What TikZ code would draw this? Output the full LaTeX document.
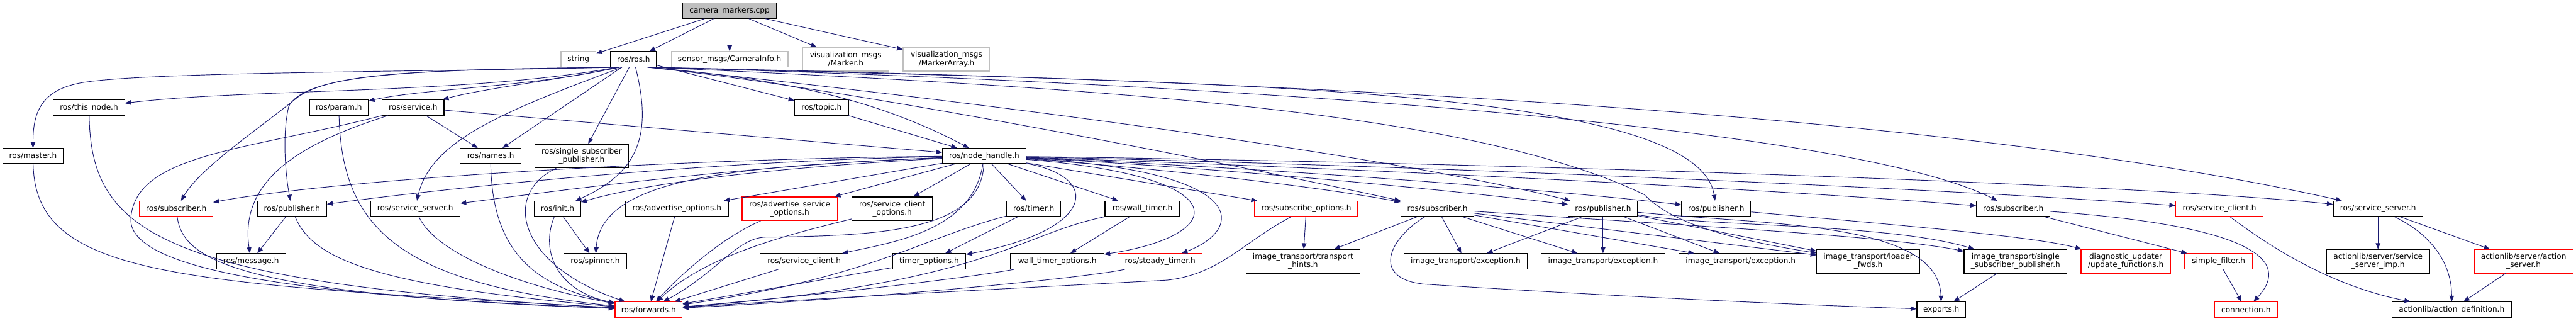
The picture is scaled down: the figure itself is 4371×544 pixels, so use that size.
\documentclass[tikz,border=0pt]{standalone}
\usepackage{fontspec}
\setmainfont{DejaVu Sans}
\usetikzlibrary{arrows.meta}
\definecolor{edgeblue}{RGB}{25,25,112}
\definecolor{grey75}{RGB}{191,191,191}

\begin{document}
\begin{tikzpicture}[x=0.75pt, y=-0.75pt,
  file/.style={draw=black, line width=1pt, font=\fontsize{9.7}{10.7}\selectfont, align=center, inner sep=0pt, minimum height=19.5pt},
  twoline/.style={minimum height=30pt},
  ext/.style={file, draw=grey75},
  miss/.style={file, draw=red},
  inc/.style={draw=edgeblue, line width=0.75pt, -{Triangle[length=7.5pt,width=6pt]}}]
\useasboundingbox (0,0) rectangle (4371,544);

\node[file, fill=grey75, minimum width=119.25pt] (cam) at (1238,18) {camera\_markers.cpp};
\node[ext, minimum width=44.25pt] (str) at (981.5,100.5) {string};
\node[file, minimum width=58.5pt] (ros) at (1075,100.5) {ros/ros.h};
\node[ext, minimum width=148.5pt] (caminfo) at (1238,100.5) {sensor\_msgs/CameraInfo.h};
\node[ext, twoline, minimum width=109.5pt] (marker) at (1435,100.5) {visualization\_msgs\\/Marker.h};
\node[ext, twoline, minimum width=110.25pt] (markerarr) at (1606,100.5) {visualization\_msgs\\/MarkerArray.h};

\node[file, minimum width=90.75pt] (thisnode) at (151,182.3) {ros/this\_node.h};
\node[file, minimum width=75pt] (param) at (575,182.3) {ros/param.h};
\node[file, minimum width=78.75pt] (service) at (701,182.3) {ros/service.h};
\node[file, minimum width=68.25pt] (topic) at (1394,182.3) {ros/topic.h};

\node[file, minimum width=77.25pt] (master) at (56,264.5) {ros/master.h};
\node[file, minimum width=77.25pt] (names) at (832.5,264.5) {ros/names.h};
\node[file, twoline, minimum width=119.6pt] (singlesub) at (987,264.5) {ros/single\_subscriber\\\_publisher.h};
\node[file, minimum width=106.5pt] (nodehandle) at (1670,264.5) {ros/node\_handle.h};

\node[miss, minimum width=93pt] (subA) at (299,354) {ros/subscriber.h};
\node[file, minimum width=87.75pt] (pubA) at (495.5,354) {ros/publisher.h};
\node[file, minimum width=114pt] (srvA) at (704.5,354) {ros/service\_server.h};
\node[file, minimum width=58.5pt] (init) at (946,354) {ros/init.h};
\node[file, minimum width=131.25pt] (advopt) at (1148.5,354) {ros/advertise\_options.h};
\node[miss, twoline, minimum width=121.1pt] (advsrv) at (1340,354) {ros/advertise\_service\\\_options.h};
\node[file, twoline, minimum width=102.4pt] (clientopt) at (1514,354) {ros/service\_client\\\_options.h};
\node[file, minimum width=69pt] (timer) at (1754,354) {ros/timer.h};
\node[file, minimum width=95.25pt] (walltimer) at (1938.5,354) {ros/wall\_timer.h};
\node[miss, minimum width=131.25pt] (subopt) at (2216.5,354) {ros/subscribe\_options.h};
\node[file, minimum width=93pt] (subB) at (2439,354) {ros/subscriber.h};
\node[file, minimum width=88.1pt] (pubB) at (2720,354) {ros/publisher.h};
\node[file, minimum width=87.75pt] (pubC) at (2912,354) {ros/publisher.h};
\node[file, minimum width=93pt] (subC) at (3416,354) {ros/subscriber.h};
\node[miss, minimum width=111.4pt] (clientR) at (3766,354) {ros/service\_client.h};
\node[file, minimum width=114pt] (srvB) at (4035,354) {ros/service\_server.h};

\node[file, minimum width=88.5pt] (message) at (426,443) {ros/message.h};
\node[file, minimum width=79.5pt] (spinner) at (1010,443) {ros/spinner.h};
\node[file, minimum width=111.75pt] (clientB) at (1364.5,443) {ros/service\_client.h};
\node[file, minimum width=93pt] (timeropt) at (1576.7,443) {timer\_options.h};
\node[file, minimum width=118.5pt] (walltimeropt) at (1794,443) {wall\_timer\_options.h};
\node[miss, minimum width=107.25pt] (steadytimer) at (1968.5,443) {ros/steady\_timer.h};
\node[file, twoline, minimum width=144.5pt] (hints) at (2211,443) {image\_transport/transport\\\_hints.h};
\node[file, minimum width=157.1pt] (excA) at (2487,443) {image\_transport/exception.h};
\node[file, minimum width=157.5pt] (excB) at (2720,443) {image\_transport/exception.h};
\node[file, minimum width=156.75pt] (excC) at (2953.5,443) {image\_transport/exception.h};
\node[file, twoline, minimum width=130.9pt] (loader) at (3170,443) {image\_transport/loader\\\_fwds.h};
\node[file, twoline, minimum width=131pt] (single) at (3420,443) {image\_transport/single\\\_subscriber\_publisher.h};
\node[miss, twoline, minimum width=113.7pt] (diag) at (3607,443) {diagnostic\_updater\\/update\_functions.h};
\node[miss, minimum width=86.25pt] (filter) at (3764.5,443) {simple\_filter.h};
\node[file, twoline, minimum width=131.25pt] (srvimp) at (4035,443) {actionlib/server/service\\\_server\_imp.h};
\node[miss, twoline, minimum width=125.7pt] (actsrv) at (4282,443) {actionlib/server/action\\\_server.h};

\node[miss, minimum width=85.5pt] (forwards) at (1100.6,525) {ros/forwards.h};
\node[file, minimum width=62pt] (exports) at (3294,525) {exports.h};
\node[miss, minimum width=79.5pt] (connection) at (3811,525) {connection.h};
\node[file, minimum width=151.9pt] (actiondef) at (4160,525) {actionlib/action\_definition.h};

\draw[inc] (cam) -- (str);
\draw[inc] (cam) -- (ros);
\draw[inc] (cam) -- (caminfo);
\draw[inc] (cam) -- (marker);
\draw[inc] (cam) -- (markerarr);

\draw[inc] (ros.205) .. controls (800,160) and (420,150) .. (thisnode);
\draw[inc] (ros.207) .. controls (900,148) and (720,150) .. (param);
\draw[inc] (ros.210) .. controls (950,135) and (820,150) .. (service);
\draw[inc] (ros.203) .. controls (700,122) and (250,122) .. (140,140) .. controls (70,152) and (56,190) .. (master);
\draw[inc] (ros.204) .. controls (700,118) and (560,125) .. (505,165) .. controls (430,225) and (340,285) .. (subA);
\draw[inc] (ros.204) .. controls (700,118) and (520,125) .. (490,180) .. controls (478,230) and (485,300) .. (pubA);
\draw[inc] (ros.215) .. controls (850,190) and (730,240) .. (srvA);
\draw[inc] (ros) -- (names);
\draw[inc] (ros) -- (singlesub);
\draw[inc] (ros) .. controls (1105,220) and (1090,290) .. (init);
\draw[inc] (ros) -- (topic);
\draw[inc] (ros.330) .. controls (1350,135) and (1500,175) .. (nodehandle);
\draw[inc] (ros.335) .. controls (1500,155) and (2300,250) .. (pubB);
\draw[inc] (ros.330) .. controls (1450,150) and (2100,280) .. (subB);
\draw[inc] (ros.338) .. controls (2000,140) and (2880,140) .. (pubC);
\draw[inc] (ros.337) .. controls (2200,145) and (3150,220) .. (subC);
\draw[inc] (ros.338) .. controls (2200,137) and (3300,190) .. (srvB);
\draw[inc] (ros.336) .. controls (1900,150) and (2500,190) .. (2790,330) .. controls (2830,370) and (2900,400) .. (loader);

\draw[inc] (service) -- (names);
\draw[inc] (service) -- (nodehandle);
\draw[inc] (service) .. controls (520,240) and (405,300) .. (message);
\draw[inc] (service) .. controls (420,255) and (230,260) .. (222,370) .. controls (215,470) and (600,505) .. (forwards);
\draw[inc] (topic) -- (nodehandle);

\draw[inc] (nodehandle) .. controls (1200,268) and (600,300) .. (subA);
\draw[inc] (nodehandle) .. controls (1200,272) and (750,320) .. (pubA);
\draw[inc] (nodehandle) .. controls (1250,280) and (900,330) .. (srvA);
\draw[inc] (nodehandle) .. controls (1300,285) and (1100,310) .. (init);
\draw[inc] (nodehandle) .. controls (1250,282) and (1020,300) .. (spinner);
\draw[inc] (nodehandle) -- (advopt);
\draw[inc] (nodehandle) -- (advsrv);
\draw[inc] (nodehandle) -- (clientopt);
\draw[inc] (nodehandle) .. controls (1650,390) and (1520,410) .. (clientB);
\draw[inc] (nodehandle) .. controls (1665,390) and (1500,400) .. (1300,402) .. controls (1250,403) and (1220,460) .. (forwards);
\draw[inc] (nodehandle) -- (timer);
\draw[inc] (nodehandle) .. controls (1870,300) and (1860,390) .. (timeropt);
\draw[inc] (nodehandle) -- (walltimer);
\draw[inc] (nodehandle) .. controls (2110,300) and (2080,400) .. (walltimeropt);
\draw[inc] (nodehandle) .. controls (2130,290) and (2110,390) .. (steadytimer);
\draw[inc] (nodehandle) -- (subopt);
\draw[inc] (nodehandle) .. controls (1900,280) and (2200,310) .. (subB);
\draw[inc] (nodehandle) .. controls (2000,280) and (2400,315) .. (pubB);
\draw[inc] (nodehandle) .. controls (2100,282) and (2600,318) .. (pubC);
\draw[inc] (nodehandle) .. controls (2300,285) and (3000,320) .. (subC);
\draw[inc] (nodehandle) .. controls (2400,280) and (3300,320) .. (clientR);
\draw[inc] (nodehandle) .. controls (2500,275) and (3600,310) .. (srvB);

\draw[inc] (master) .. controls (60,470) and (300,480) .. (forwards);
\draw[inc] (thisnode) .. controls (155,390) and (260,480) .. (forwards);
\draw[inc] (subA) .. controls (310,440) and (400,500) .. (forwards);
\draw[inc] (pubA) .. controls (530,440) and (640,485) .. (forwards);
\draw[inc] (param) .. controls (580,390) and (680,480) .. (forwards);
\draw[inc] (srvA) .. controls (740,430) and (880,485) .. (forwards);
\draw[inc] (names) .. controls (835,420) and (900,485) .. (forwards);
\draw[inc] (singlesub) .. controls (850,330) and (880,450) .. (forwards);
\draw[inc] (init) .. controls (915,430) and (950,495) .. (forwards);
\draw[inc] (advopt) -- (forwards);
\draw[inc] (advsrv) .. controls (1230,400) and (1160,460) .. (forwards);
\draw[inc] (clientopt) .. controls (1350,395) and (1200,430) .. (forwards);
\draw[inc] (clientB) -- (forwards);
\draw[inc] (timer) .. controls (1560,405) and (1480,470) .. (forwards);
\draw[inc] (timeropt) -- (forwards);
\draw[inc] (walltimer) .. controls (1720,400) and (1680,480) .. (forwards);
\draw[inc] (walltimeropt) .. controls (1650,470) and (1400,500) .. (forwards);
\draw[inc] (steadytimer) .. controls (1850,470) and (1500,505) .. (forwards);
\draw[inc] (subopt) .. controls (2110,410) and (2070,465) .. (1980,475) .. controls (1700,490) and (1400,505) .. (forwards);

\draw[inc] (init) -- (spinner);
\draw[inc] (pubA) -- (message);
\draw[inc] (timer) -- (timeropt);
\draw[inc] (walltimer) -- (walltimeropt);
\draw[inc] (subopt) -- (hints);

\draw[inc] (subB) -- (hints);
\draw[inc] (subB) .. controls (2350,410) and (2330,475) .. (2420,482) .. controls (2700,500) and (3000,515) .. (exports);
\draw[inc] (subB) -- (excA);
\draw[inc] (subB) -- (excB);
\draw[inc] (subB) -- (excC);
\draw[inc] (subB) -- (loader);
\draw[inc] (subB) .. controls (2900,385) and (3200,400) .. (single);
\draw[inc] (pubB) -- (excA);
\draw[inc] (pubB) -- (excB);
\draw[inc] (pubB) -- (excC);
\draw[inc] (pubB) -- (loader);
\draw[inc] (pubB) .. controls (2900,385) and (3200,378) .. (single);
\draw[inc] (pubB) .. controls (3000,382) and (3290,375) .. (exports);
\draw[inc] (pubC) .. controls (3200,380) and (3450,400) .. (diag);
\draw[inc] (single) -- (exports);

\draw[inc] (subC) .. controls (3780,380) and (3900,430) .. (connection);
\draw[inc] (subC) -- (filter);
\draw[inc] (filter) -- (connection);
\draw[inc] (clientR) .. controls (3880,440) and (3980,490) .. (actiondef);
\draw[inc] (srvB) -- (srvimp);
\draw[inc] (srvB) .. controls (4130,400) and (4160,450) .. (actiondef);
\draw[inc] (srvB) -- (actsrv);
\draw[inc] (actsrv) -- (actiondef);
\end{tikzpicture}
\end{document}
